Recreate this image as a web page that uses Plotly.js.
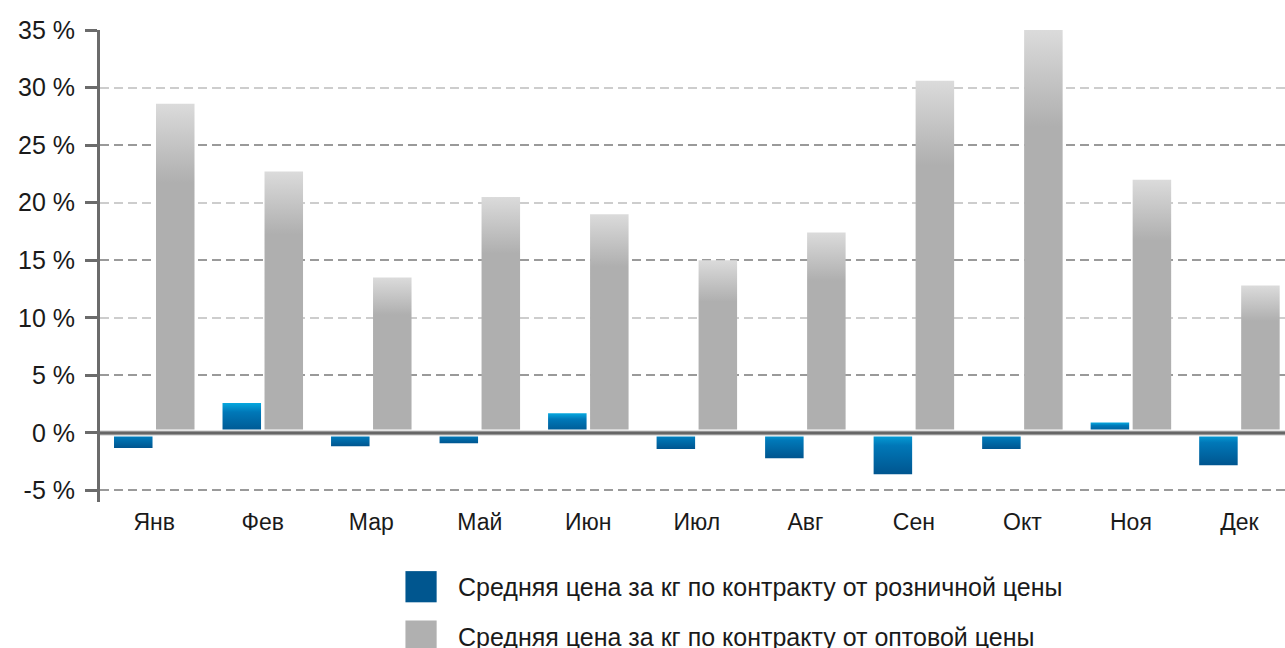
<!DOCTYPE html>
<html><head><meta charset="utf-8">
<script src="https://cdn.plot.ly/plotly-3.0.1.min.js"></script>
<style>html,body{margin:0;padding:0;background:#fff}</style>
</head><body>
<div id="chart" style="width:1285px;height:648px"></div>
<script>
const months = ['Янв', 'Фев', 'Мар', 'Май', 'Июн', 'Июл', 'Авг', 'Сен', 'Окт', 'Ноя', 'Дек'];
const retailValues = [-1.3, 2.6, -1.15, -0.9, 1.7, -1.4, -2.2, -3.6, -1.4, 0.9, -2.8];
const wholesaleValues = [28.6, 22.7, 13.5, 20.5, 19.0, 15.0, 17.4, 30.6, 35.0, 22.0, 12.8];
const retailName = 'Средняя цена за кг по контракту от розничной цены';
const wholesaleName = 'Средняя цена за кг по контракту от оптовой цены';
const yTickVals = [-5, 0, 5, 10, 15, 20, 25, 30, 35];
const yTickText = ['-5 %', '0 %', '5 %', '10 %', '15 %', '20 %', '25 %', '30 %', '35 %'];

const FONT = 'Liberation Sans, Arial, sans-serif';
const TXT = '#1a1a1a';

const data = [
  {type: 'bar', x: months, y: retailValues, name: retailName, legend: 'legend',
   marker: {color: '#00568f', line: {width: 0}}},
  {type: 'bar', x: months, y: wholesaleValues, name: wholesaleName, legend: 'legend2',
   marker: {color: '#b0b0b0', line: {width: 0}}},
  // carrier for the overlaid grid axis (no visible marks)
  {type: 'scatter', x: [], y: [], yaxis: 'y2', showlegend: false, hoverinfo: 'skip'}
];

const layout = {
  width: 1285, height: 648,
  margin: {l: 100, r: 0, t: 30, b: 146, autoexpand: false},
  paper_bgcolor: '#ffffff', plot_bgcolor: '#ffffff',
  barmode: 'group', bargap: 0.226, bargroupgap: 0.083,
  font: {family: FONT, color: TXT},
  xaxis: {type: 'category', range: [-0.5, 10.42], showgrid: false, zeroline: false,
          showline: false, ticks: '', tickfont: {family: FONT, size: 23, color: TXT},
          ticklabelstandoff: 4},
  yaxis: {range: [-6, 35], tickvals: yTickVals, ticktext: yTickText,
          showgrid: true, gridcolor: '#cdcdcd', gridwidth: 2, griddash: '9px,5px',
          zeroline: false, showline: true, linecolor: '#6b6b6b', linewidth: 3,
          ticks: 'outside', ticklen: 12, tickwidth: 3, tickcolor: '#6b6b6b',
          ticklabelstandoff: 5,
          tickfont: {family: FONT, size: 25, color: TXT}},
  yaxis2: {overlaying: 'y', side: 'left', range: [-6, 35], tick0: -5, dtick: 10,
           showgrid: true, gridcolor: '#9a9a9a', gridwidth: 2, griddash: '9px,5px',
           showticklabels: false, ticks: '', showline: false, zeroline: false},
  shapes: [
    {type: 'line', xref: 'paper', x0: 0.002, x1: 1, yref: 'y', y0: 0, y1: 0, layer: 'above',
     line: {color: '#ffffff', width: 7}},
    {type: 'line', xref: 'paper', x0: 0, x1: 1, yref: 'y', y0: 0, y1: 0, layer: 'above',
     line: {color: '#c4c4c4', width: 5}},
    {type: 'line', xref: 'paper', x0: 0, x1: 1, yref: 'y', y0: 0, y1: 0, layer: 'above',
     line: {color: '#666666', width: 3}}
  ],
  legend: {x: 0.2397, xanchor: 'left', y: -0.18, yanchor: 'middle', itemwidth: 64,
           bgcolor: 'rgba(0,0,0,0)', font: {family: FONT, size: 25, color: TXT}},
  legend2: {x: 0.2397, xanchor: 'left', y: -0.2845, yanchor: 'middle', itemwidth: 64,
           bgcolor: 'rgba(0,0,0,0)', font: {family: FONT, size: 25, color: TXT}},
  showlegend: true
};

Plotly.newPlot('chart', data, layout, {staticPlot: true, displayModeBar: false}).then(function (gd) {
  const ns = 'http://www.w3.org/2000/svg';
  const svg = gd.querySelector('svg.main-svg');
  let defs = svg.querySelector('defs');
  if (!defs) { defs = document.createElementNS(ns, 'defs'); svg.insertBefore(defs, svg.firstChild); }
  function grad(id, stops) {
    const g = document.createElementNS(ns, 'linearGradient');
    g.setAttribute('id', id);
    g.setAttribute('x1', '0'); g.setAttribute('y1', '0');
    g.setAttribute('x2', '0'); g.setAttribute('y2', '1');
    stops.forEach(function (s) {
      const st = document.createElementNS(ns, 'stop');
      st.setAttribute('offset', s[0]);
      st.setAttribute('stop-color', s[1]);
      g.appendChild(st);
    });
    defs.appendChild(g);
  }
  grad('gBlue', [[0, '#06a8df'], [0.3, '#0078b8'], [1, '#00558f']]);
  grad('gGray', [[0, '#dbdbdb'], [0.24, '#afafaf'], [1, '#afafaf']]);
  gd.querySelectorAll('.barlayer .trace').forEach(function (tr, i) {
    tr.querySelectorAll('path').forEach(function (p) {
      p.style.fill = i === 0 ? 'url(#gBlue)' : 'url(#gGray)';
    });
  });
  // enlarge legend swatches (keep Plotly's own translate)
  gd.querySelectorAll('.legendpoints path').forEach(function (p) {
    const t = p.getAttribute('transform') || '';
    p.setAttribute('transform', t + ' scale(2.6)');
  });
});
</script>
</body></html>
